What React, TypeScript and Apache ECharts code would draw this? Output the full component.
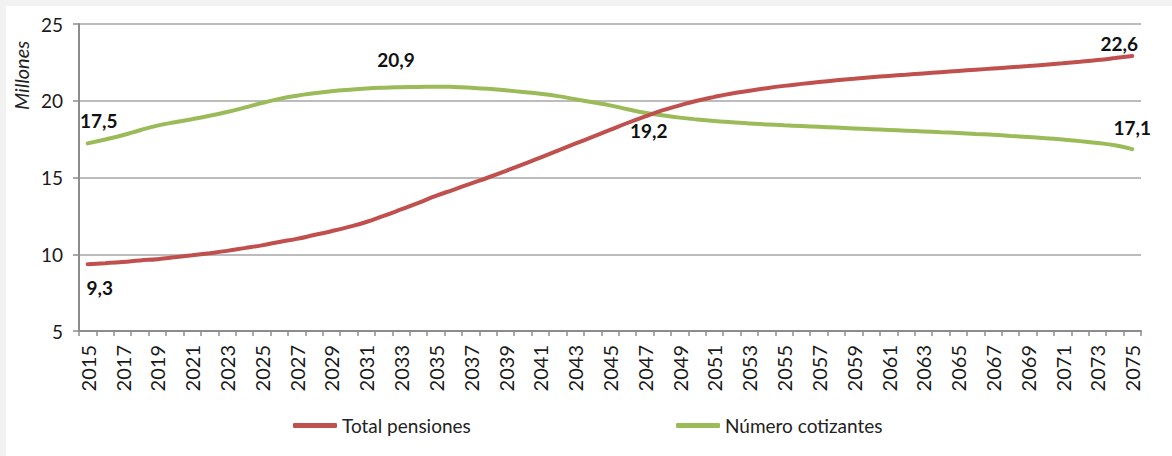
import React, { useEffect, useRef } from "react";
import * as echarts from "echarts";

const years: string[] = [];
for (let y = 2015; y <= 2075; y++) years.push(String(y));

const pensionName = "Total pensiones";
const contribName = "Número cotizantes";

const pensionValues = [
  9.35, 9.42, 9.5, 9.6, 9.68, 9.8, 9.93, 10.07, 10.22, 10.4,
  10.58, 10.8, 11.0, 11.25, 11.5, 11.78, 12.1, 12.5, 12.92, 13.35,
  13.8, 14.2, 14.6, 15.0, 15.42, 15.85, 16.3, 16.75, 17.2, 17.65,
  18.1, 18.55, 18.97, 19.37, 19.7, 20.0, 20.25, 20.47, 20.65, 20.82,
  20.97, 21.1, 21.22, 21.33, 21.43, 21.53, 21.62, 21.7, 21.78, 21.86,
  21.94, 22.02, 22.1, 22.18, 22.26, 22.35, 22.44, 22.54, 22.65, 22.78,
  22.92,
];

const contribValues = [
  17.22, 17.48, 17.75, 18.08, 18.38, 18.6, 18.8, 19.02, 19.27, 19.55,
  19.85, 20.12, 20.33, 20.49, 20.62, 20.72, 20.8, 20.85, 20.88, 20.9,
  20.92, 20.9, 20.85, 20.78, 20.68, 20.57, 20.45, 20.3, 20.1, 19.9,
  19.7, 19.45, 19.22, 19.05, 18.9, 18.78, 18.68, 18.6, 18.52, 18.46,
  18.4, 18.35, 18.3, 18.25, 18.2, 18.15, 18.1, 18.05, 18.0, 17.95,
  17.9, 17.84, 17.78, 17.71, 17.64, 17.56, 17.47, 17.37, 17.25, 17.1,
  16.85,
];

// annotated values (text as printed in the source)
const pensionLabelYears = ["2015", "2075"];
const pensionLabelTexts = ["9,3", "22,6"];
const contribLabelYears = ["2015", "2033", "2047", "2075"];
const contribLabelTexts = ["17,5", "20,9", "19,2", "17,1"];

const yTicks = [5, 10, 15, 20, 25];
const yAxisTitle = "Millones";

const RED = "#c0504d";
const GREEN = "#9bbb59";
const FONT = "Lato, 'Open Sans', sans-serif";

export default function App() {
  const ref = useRef<HTMLDivElement>(null);

  useEffect(() => {
    if (!ref.current) return;
    const chart = echarts.init(ref.current, undefined, { renderer: "svg" });

    const labelCfg = (pos: "top" | "bottom", offset: number[], dist: number) => ({
      show: true,
      position: pos,
      distance: dist,
      offset,
      fontFamily: FONT,
      fontWeight: "bold",
      fontSize: 19,
      color: "#111",
    });

    const pensionLabelPlacement: Record<string, any> = {
      "2015": labelCfg("bottom", [12, 2], 12),
      "2075": labelCfg("top", [-13, 0], 3),
    };
    const contribLabelPlacement: Record<string, any> = {
      "2015": labelCfg("top", [11, -1], 12),
      "2033": labelCfg("top", [-5, 0], 18),
      "2047": labelCfg("bottom", [4, 0], 8),
      "2075": labelCfg("top", [0, 0], 12),
    };

    const hidden = { symbolSize: 0 };
    const pensionData = pensionValues.map((v, i) => {
      const k = pensionLabelYears.indexOf(years[i]);
      if (k < 0) return { value: v, label: { show: false } };
      const text = pensionLabelTexts[k];
      return {
        value: v,
        label: { ...pensionLabelPlacement[years[i]], formatter: () => text },
      };
    });
    const contribData = contribValues.map((v, i) => {
      const k = contribLabelYears.indexOf(years[i]);
      if (k < 0) return { value: v, label: { show: false } };
      const text = contribLabelTexts[k];
      return {
        value: v,
        label: { ...contribLabelPlacement[years[i]], formatter: () => text },
      };
    });

    const legendText = { fontFamily: FONT, fontSize: 19, color: "#222" };

    chart.setOption({
      animation: false,
      backgroundColor: "#ffffff",
      grid: { left: 73, right: 31, top: 18, bottom: 125, containLabel: false },
      legend: [
        {
          data: [pensionName],
          left: 282,
          top: 405,
          icon: "roundRect",
          itemWidth: 44,
          itemHeight: 5,
          itemGap: 0,
          textStyle: legendText,
        },
        {
          data: [contribName],
          left: 665,
          top: 405,
          icon: "roundRect",
          itemWidth: 44,
          itemHeight: 5,
          itemGap: 0,
          textStyle: legendText,
        },
      ],
      graphic: [
        {
          type: "text",
          x: 5,
          y: 104,
          rotation: Math.PI / 2,
          style: {
            text: yAxisTitle,
            fontFamily: FONT,
            fontStyle: "italic",
            fontSize: 20,
            fill: "#222",
            align: "left",
            verticalAlign: "top",
          },
        },
      ],
      xAxis: {
        type: "category",
        data: years,
        boundaryGap: true,
        axisLine: { show: true, lineStyle: { color: "#8c8c8c", width: 2 } },
        axisTick: {
          show: true,
          interval: 0,
          length: 5,
          lineStyle: { color: "#8c8c8c", width: 1.5 },
        },
        axisLabel: {
          interval: 1,
          rotate: 90,
          margin: 14,
          fontFamily: FONT,
          fontSize: 20,
          color: "#1a1a1a",
        },
        splitLine: { show: false },
      },
      yAxis: {
        type: "value",
        min: yTicks[0],
        max: yTicks[yTicks.length - 1],
        interval: 5,
        axisLine: { show: true, lineStyle: { color: "#8c8c8c", width: 2 } },
        axisTick: { show: true, length: 6, lineStyle: { color: "#8c8c8c", width: 1.5 } },
        axisLabel: {
          margin: 16,
          fontFamily: FONT,
          fontSize: 19,
          color: "#1a1a1a",
        },
        splitLine: { show: true, lineStyle: { color: "#a6a6a6", width: 1.5 } },
      },
      series: [
        {
          name: pensionName,
          type: "line",
          data: pensionData,
          smooth: true,
          showSymbol: true,
          showAllSymbol: true,
          symbol: "circle",
          ...hidden,
          lineStyle: { color: RED, width: 4, cap: "round" },
          itemStyle: { color: RED },
          z: 3,
        },
        {
          name: contribName,
          type: "line",
          data: contribData,
          smooth: true,
          showSymbol: true,
          showAllSymbol: true,
          symbol: "circle",
          ...hidden,
          lineStyle: { color: GREEN, width: 4, cap: "round" },
          itemStyle: { color: GREEN },
          z: 2,
        },
      ],
    });

    return () => chart.dispose();
  }, []);

  return (
    <div
      style={{
        position: "absolute",
        left: 0,
        top: 0,
        width: 1172,
        height: 456,
        background: "#f2f2f2",
      }}
    >
      <div
        ref={ref}
        style={{
          position: "absolute",
          left: 6,
          top: 6,
          width: 1166,
          height: 450,
          background: "#ffffff",
        }}
      />
    </div>
  );
}
